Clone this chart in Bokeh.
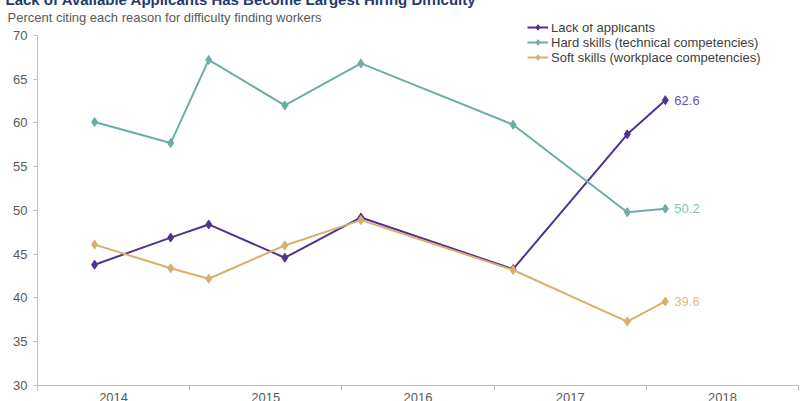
from bokeh.plotting import figure
from bokeh.models import (Range1d, FixedTicker, Legend, LegendItem, Title,
                          CustomJSTickFormatter, InlineStyleSheet)
from bokeh.core.properties import value
from bokeh.embed import file_html
from bokeh.resources import INLINE

# ---- data ----
survey_dates = ["2014-05", "2014-11", "2015-02", "2015-08", "2016-02", "2017-02", "2017-11", "2018-02"]
lack_of_applicants = [43.8, 46.9, 48.4, 44.6, 49.2, 43.3, 58.7, 62.6]
hard_skills = [60.1, 57.7, 67.2, 62.0, 66.8, 59.8, 49.8, 50.2]
soft_skills = [46.1, 43.4, 42.2, 46.0, 48.9, 43.2, 37.3, 39.6]
series_names = ["Lack of applicants", "Hard skills (technical competencies)", "Soft skills (workplace competencies)"]
year_labels = ["2014", "2015", "2016", "2017", "2018"]
y_ticks = [30, 35, 40, 45, 50, 55, 60, 65, 70]

title_text = "Lack of Available Applicants Has Become Largest Hiring Difficulty"
subtitle_text = "Percent citing each reason for difficulty finding workers"

# decimal-year positions (mid-month)
xs = [int(d[:4]) + (int(d[5:7]) - 0.5) / 12 for d in survey_dates]
years = [int(y) for y in year_labels]

FONT = "Liberation Sans"
colors = ["#4F3291", "#6AAEA6", "#D8B06C"]
label_colors = ["#6A55A3", "#86BFB8", "#DDBB88"]

# layout geometry (page pixels)
SHIFT_TOP, SHIFT_BOT = 12, 6
W, H = 802, 401 + SHIFT_TOP + SHIFT_BOT
FRAME_TOP, AX_TOP, AX_BOT = 21, 32, 385
ppu = (AX_BOT - AX_TOP) / (y_ticks[-1] - y_ticks[0])
y_end = y_ticks[-1] + (AX_TOP - FRAME_TOP) / ppu

p = figure(width=W, height=H, output_backend="svg", toolbar_location=None,
           x_range=Range1d(years[0], years[-1] + 1), y_range=Range1d(y_ticks[0], y_end),
           min_border_left=37, min_border_right=4, min_border_top=FRAME_TOP + SHIFT_TOP,
           min_border_bottom=H - (AX_BOT + SHIFT_TOP))
p.stylesheets = [InlineStyleSheet(css=":host { margin-top: -%dpx !important; margin-bottom: -%dpx !important; }" % (SHIFT_TOP, SHIFT_BOT))]
p.outline_line_color = None
p.xgrid.visible = False
p.ygrid.visible = False
p.background_fill_color = "white"
p.border_fill_color = "white"

# y axis
ya = p.yaxis[0]
ya.ticker = FixedTicker(ticks=y_ticks)
ya.bounds = (y_ticks[0], y_ticks[-1])
ya.axis_line_color = "#BFBFBF"
ya.major_tick_line_color = "#BFBFBF"
ya.major_tick_out = 4
ya.major_tick_in = 0
ya.minor_tick_line_color = None
ya.major_label_standoff = 6
ya.major_label_text_font = FONT
ya.major_label_text_font_size = "13px"
ya.major_label_text_color = "#595959"

# x axis: labels centred in each year, tick marks at year boundaries
xa = p.xaxis[0]
xa.ticker = FixedTicker(ticks=[y + 0.5 for y in years], minor_ticks=years + [years[-1] + 1])
xa.formatter = CustomJSTickFormatter(code="return Math.floor(tick).toString()")
xa.axis_line_color = "#BFBFBF"
xa.major_tick_line_color = None
xa.major_tick_out = 0
xa.major_tick_in = 0
xa.minor_tick_line_color = "#BFBFBF"
xa.minor_tick_out = 5
xa.minor_tick_in = 0
xa.major_label_standoff = 2
xa.major_label_text_font = FONT
xa.major_label_text_font_size = "13px"
xa.major_label_text_color = "#595959"

# series
items = []
for vals, name, c in zip([lack_of_applicants, hard_skills, soft_skills], series_names, colors):
    r1 = p.line(xs, vals, line_color=c, line_width=2)
    r2 = p.scatter(xs, vals, marker="diamond", size=9, fill_color=c, line_color=c)
    items.append(LegendItem(label=name, renderers=[r1, r2]))

last_vals = [lack_of_applicants[-1], hard_skills[-1], soft_skills[-1]]
p.text(x=[xs[-1]] * 3, y=last_vals, text=[f"{v:.1f}" for v in last_vals],
       x_offset=9, text_baseline="middle", text_align="left", text_font=value(FONT),
       text_font_size="13px", text_color=label_colors)

# legend rows centred at page y ~29.3, 43.3, 57.3
leg_bottom = 64.8
legend = Legend(items=items, location=(527 - 37, AX_BOT - leg_bottom), glyph_width=21, glyph_height=14,
                label_height=14, label_standoff=3, spacing=-1, padding=0, margin=0,
                border_line_alpha=0, background_fill_alpha=0,
                label_text_font=FONT, label_text_font_size="13px", label_text_color="#404040")
p.add_layout(legend)

# subtitle (nearest the frame) and title (cropped at top, as in the reference)
p.add_layout(Title(text=subtitle_text, align="left", offset=-30, standoff=0,
                   text_font=FONT, text_font_size="13px", text_font_style="normal",
                   text_color="#595959"), "above")
p.add_layout(Title(text=title_text, align="left", offset=-32, standoff=0,
                   text_font=FONT, text_font_size="15px", text_font_style="bold",
                   text_color="#1F3A6E"), "above")

open("out.html", "w").write(file_html(p, INLINE))
